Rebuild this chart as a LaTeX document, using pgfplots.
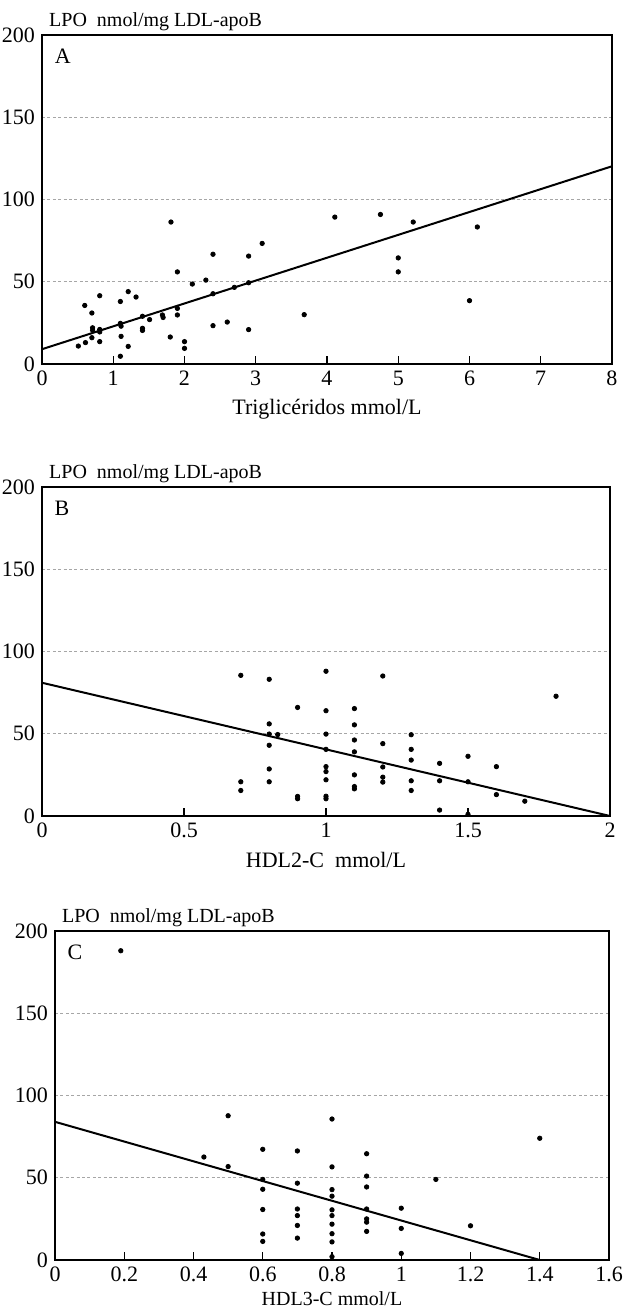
\documentclass[border=0pt]{standalone}
\usepackage{fontspec}
\setmainfont{Liberation Serif}
\usepackage{pgfplots}
\usepackage{pgfplotstable}
\pgfplotsset{compat=1.18}

\pgfplotstableread{
x y
0.51 10.9
0.61 13
0.60 35.6
0.70 31
0.71 22
0.71 20.5
0.70 16
0.81 41.5
0.81 21
0.81 19.5
0.81 13.6
1.10 38
1.10 24.7
1.11 23
1.11 16.8
1.10 4.7
1.21 44
1.21 10.7
1.32 40.7
1.41 29
1.41 21.7
1.41 20.4
1.51 27
1.69 29.8
1.70 28.3
1.80 16.4
1.81 86.3
1.90 56
1.90 33.8
1.90 29.8
2.00 13.6
2.00 9.5
2.11 48.6
2.30 51
2.40 66.7
2.40 42.7
2.40 23.3
2.60 25.5
2.70 46.6
2.90 65.6
2.90 49.4
2.90 20.9
3.09 73.3
3.68 30
4.11 89.3
4.75 90.9
5.00 64.5
5.00 56
5.21 86.3
6.00 38.5
6.11 83.3
}\dataA

\pgfplotstableread{
x y
0.70 85.5
0.70 20.8
0.70 15.5
0.80 83.1
0.80 56
0.80 49.8
0.80 43
0.80 28.6
0.80 20.8
0.83 49.5
0.90 66
0.90 11.9
0.90 10.5
1.00 88
1.00 64
1.00 49.8
1.00 40.5
1.00 30
1.00 27
1.00 22
1.00 12
1.00 10.5
1.10 65.3
1.10 55.4
1.10 46.2
1.10 39
1.10 25
1.10 17.9
1.10 16.5
1.20 85.1
1.20 44
1.20 29.8
1.20 23.6
1.20 20.6
1.30 49.4
1.30 40.5
1.30 34
1.30 21.4
1.30 15.5
1.40 32
1.40 21.4
1.40 3.6
1.50 36.3
1.50 20.8
1.50 1
1.60 30
1.60 13
1.70 9
1.81 72.8
}\dataB

\pgfplotstableread{
x y
0.19 188
0.43 62.6
0.50 87.7
0.50 56.8
0.60 67.3
0.60 49
0.60 43
0.60 30.7
0.60 15.8
0.60 11.3
0.70 66.3
0.70 46.7
0.70 31
0.70 27
0.70 21
0.70 13.3
0.80 85.7
0.80 56.6
0.80 42.8
0.80 38.8
0.80 30.5
0.80 27
0.80 21.8
0.80 16
0.80 11
0.80 2
0.90 64.6
0.90 51
0.90 44.4
0.90 31
0.90 25
0.90 23
0.90 17.4
1.00 31.5
1.00 19.2
1.00 4
1.10 49
1.20 20.8
1.40 74
}\dataC

\pgfplotsset{
  panel/.style={
    scale only axis,
    height=164.5pt,
    ymin=0, ymax=200,
    ytick={0,50,100,150,200},
    ymajorgrids,
    grid style={gray!70, line width=0.4pt, dash pattern=on 1.5pt off 1.2pt},
    axis line style={black, line width=0.9pt},
    tick align=inside,
    xtick pos=left,
    ytick style={draw=none},
    xtick style={black, line width=0.6pt},
    major tick length=4pt,
    tick label style={font=\fontsize{11}{13}\selectfont},
    /pgf/number format/assume math mode=true,
    xlabel style={font=\fontsize{11}{13}\selectfont},
    clip mode=individual,
  },
  pts/.style={only marks, mark=*, mark size=1.1pt, black},
  fit/.style={black, line width=1pt},
}

\newcommand{\ytitle}{\node[anchor=south west, inner sep=0pt, font=\fontsize{10}{12}\selectfont] at (rel axis cs:0.012,1.012) {LPO\ \ nmol/mg LDL-apoB};}

\begin{document}
\begin{tikzpicture}
\useasboundingbox (0,0) rectangle (313.5pt,657pt);

% Panel A
\begin{axis}[panel, at={(21pt,475pt)}, anchor=south west, width=285pt,
  xmin=0, xmax=8, xtick={0,1,...,8},
  xlabel={Triglicéridos mmol/L}]
\addplot[pts] table[x=x,y=y] {\dataA};
\addplot[fit] coordinates {(0,9) (8,120.2)};
\ytitle
\node[anchor=north west, font=\fontsize{11}{13}\selectfont] at (rel axis cs:0.01,0.98) {A};
\end{axis}

% Panel B
\begin{axis}[panel, at={(21pt,249pt)}, anchor=south west, width=284pt,
  xmin=0, xmax=2, xtick={0,0.5,1,1.5,2}, xticklabels={0,0.5,1,1.5,2},
  xlabel={HDL2-C\ \ mmol/L}]
\addplot[pts] table[x=x,y=y] {\dataB};
\addplot[fit] coordinates {(0,81) (2,0)};
\ytitle
\node[anchor=north west, font=\fontsize{11}{13}\selectfont] at (rel axis cs:0.01,0.98) {B};
\end{axis}

% Panel C
\begin{axis}[panel, at={(27.5pt,27pt)}, anchor=south west, width=277pt,
  xmin=0, xmax=1.6, xtick={0,0.2,...,1.6}, xticklabels={0,0.2,0.4,0.6,0.8,1,1.2,1.4,1.6},
  xlabel={HDL3-C mmol/L},
  xlabel style={font=\fontsize{10}{12}\selectfont, yshift=2pt}]
\addplot[pts] table[x=x,y=y] {\dataC};
\addplot[fit] coordinates {(0,84) (1.4,0)};
\ytitle
\node[anchor=north west, font=\fontsize{11}{13}\selectfont] at (rel axis cs:0.01,0.98) {C};
\end{axis}
\end{tikzpicture}
\end{document}
